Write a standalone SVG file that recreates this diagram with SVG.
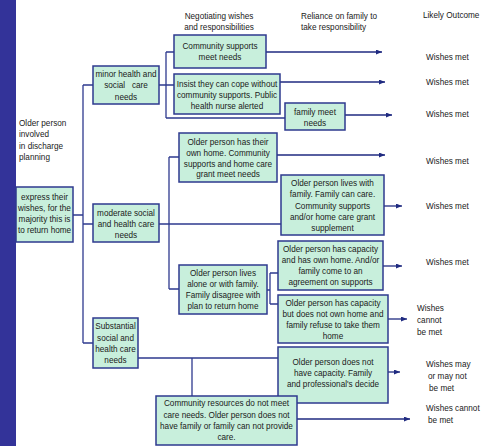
<svg xmlns="http://www.w3.org/2000/svg" width="482" height="446" viewBox="0 0 482 446">
<style>
text{font-family:"Liberation Sans",Arial,sans-serif;font-size:8.2px;fill:#1a1a1a}
.c{text-anchor:middle}
.box{fill:#c8efdc;stroke:#2e3a8f;stroke-width:1.5}
.ln{fill:none;stroke:#2e3a8f;stroke-width:1.3}
.ar{fill:none;stroke:#1f2a80;stroke-width:1.3;marker-end:url(#ah)}
</style>
<defs>
<marker id="ah" markerWidth="6" markerHeight="5" refX="6" refY="2.5" orient="auto" markerUnits="userSpaceOnUse">
<path d="M0,0 L6,2.5 L0,5 Z" fill="#1f2a80"/>
</marker>
</defs>
<rect x="0" y="0" width="16" height="446" fill="#333399"/>
<g id="headers">
<text class="c" x="219" y="19">Negotiating wishes</text>
<text class="c" x="219" y="30">and responsibilities</text>
<text x="301" y="19">Reliance on family to</text>
<text x="301" y="30">take responsibility</text>
<text x="423" y="18">Likely Outcome</text>
<text x="19" y="126">Older person</text>
<text x="19" y="137">involved</text>
<text x="19" y="149">in discharge</text>
<text x="19" y="160">planning</text>
</g>
<g id="connectors">
<path class="ln" d="M73,215H83M83,85V343M83,85H93M83,224H93M83,343H93"/>
<path class="ln" d="M159,85H174M166,52V118M166,52H174M166,118H285"/>
<path class="ar" d="M266,52H382"/>
<path class="ar" d="M280,82H385"/>
<path class="ar" d="M345,115H392"/>
<path class="ln" d="M159,224H281M169,157V289M169,157H179M169,289H179"/>
<path class="ar" d="M277,155H385"/>
<path class="ar" d="M384,206H402"/>
<path class="ln" d="M267,290H270M270,273V304M270,273H278M270,304H278"/>
<path class="ar" d="M383,266H402"/>
<path class="ar" d="M388,319H407"/>
<path class="ln" d="M138,358H278M192,358V396"/>
<path class="ar" d="M388,372H400"/>
<path class="ar" d="M297,419H410"/>
</g>
<g id="express">
<rect class="box" x="16" y="187" width="57" height="55"/>
<text class="c" x="44.5" y="200">express their</text>
<text class="c" x="44.5" y="211">wishes, for the</text>
<text class="c" x="44.5" y="222">majority this is</text>
<text class="c" x="44.5" y="233">to return home</text>
</g>
<g id="minor">
<rect class="box" x="93" y="66" width="66" height="38"/>
<text class="c" x="126" y="77">minor health and</text>
<text class="c" x="126" y="88" style="white-space:pre">social   care</text>
<text class="c" x="126" y="100">needs</text>
</g>
<g id="moderate">
<rect class="box" x="93" y="204" width="66" height="38"/>
<text class="c" x="126" y="216">moderate social</text>
<text class="c" x="126" y="227">and health care</text>
<text class="c" x="126" y="238">needs</text>
</g>
<g id="substantial">
<rect class="box" x="93" y="318" width="45" height="50"/>
<text class="c" x="115.5" y="329">Substantial</text>
<text class="c" x="115.5" y="341">social and</text>
<text class="c" x="115.5" y="352">health care</text>
<text class="c" x="115.5" y="363">needs</text>
</g>
<g id="community-meet">
<rect class="box" x="174" y="35" width="92" height="33"/>
<text class="c" x="220" y="49">Community supports</text>
<text class="c" x="220" y="60">meet needs</text>
</g>
<g id="insist">
<rect class="box" x="174" y="74" width="106" height="40"/>
<text class="c" x="227" y="87">Insist they can cope without</text>
<text class="c" x="227" y="98">community supports. Public</text>
<text class="c" x="227" y="109">health nurse alerted</text>
</g>
<g id="family-meet">
<rect class="box" x="285" y="103" width="60" height="27"/>
<text class="c" x="315" y="115">family meet</text>
<text class="c" x="315" y="126">needs</text>
</g>
<g id="own-home">
<rect class="box" x="179" y="133" width="98" height="49"/>
<text class="c" x="228" y="145">Older person has their</text>
<text class="c" x="228" y="156">own home.  Community</text>
<text class="c" x="228" y="167">supports and home care</text>
<text class="c" x="228" y="177">grant meet needs</text>
</g>
<g id="lives-with-family">
<rect class="box" x="281" y="175" width="103" height="60"/>
<text class="c" x="332.5" y="186">Older person lives with</text>
<text class="c" x="332.5" y="197">family. Family can care.</text>
<text class="c" x="332.5" y="209">Community supports</text>
<text class="c" x="332.5" y="220">and/or home care grant</text>
<text class="c" x="332.5" y="231">supplement</text>
</g>
<g id="lives-alone">
<rect class="box" x="179" y="265" width="88" height="49"/>
<text class="c" x="223" y="276">Older person lives</text>
<text class="c" x="223" y="287">alone or with family.</text>
<text class="c" x="223" y="298">Family disagree with</text>
<text class="c" x="223" y="309">plan to return home</text>
</g>
<g id="capacity-own-home">
<rect class="box" x="278" y="241" width="105" height="49"/>
<text class="c" x="330.5" y="252">Older person has capacity</text>
<text class="c" x="330.5" y="263">and has own home. And/or</text>
<text class="c" x="330.5" y="274">family come to an</text>
<text class="c" x="330.5" y="285">agreement on supports</text>
</g>
<g id="capacity-no-home">
<rect class="box" x="278" y="295" width="110" height="48"/>
<text class="c" x="333" y="306">Older person has capacity</text>
<text class="c" x="333" y="317">but does not own home and</text>
<text class="c" x="333" y="328">family refuse to take them</text>
<text class="c" x="333" y="339">home</text>
</g>
<g id="no-capacity">
<rect class="box" x="278" y="347" width="110" height="56"/>
<text class="c" x="333" y="365">Older person does not</text>
<text class="c" x="333" y="376">have capacity. Family</text>
<text class="c" x="333" y="387">and professional's decide</text>
</g>
<g id="community-resources">
<rect class="box" x="156" y="396" width="141" height="49"/>
<text class="c" x="226.5" y="406">Community resources do not meet</text>
<text class="c" x="226.5" y="418">care needs. Older person does not</text>
<text class="c" x="226.5" y="429">have family or family can not provide</text>
<text class="c" x="226.5" y="440">care.</text>
</g>
<g id="outcomes">
<text x="426" y="60">Wishes met</text>
<text x="426" y="85">Wishes met</text>
<text x="426" y="117">Wishes met</text>
<text x="426" y="164">Wishes met</text>
<text x="426" y="209">Wishes met</text>
<text x="426" y="265">Wishes met</text>
<text x="417" y="311">Wishes</text>
<text x="417" y="323">cannot</text>
<text x="417" y="335">be met</text>
<text x="426" y="367">Wishes may</text>
<text x="428" y="379">or may not</text>
<text x="429" y="391">be met</text>
<text x="426" y="411">Wishes cannot</text>
<text x="428" y="423">be met</text>
</g>
</svg>
